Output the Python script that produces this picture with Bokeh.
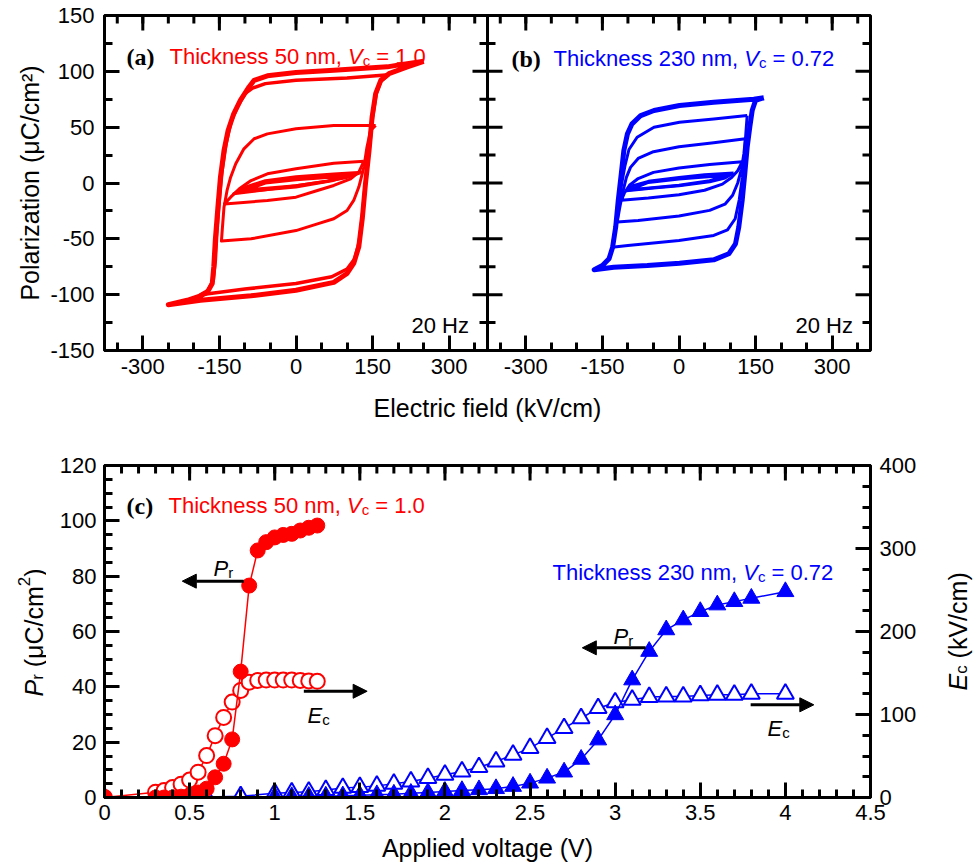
import math
from bokeh.plotting import figure
from bokeh.models import (Range1d, LinearAxis, FixedTicker, Label, Arrow, NormalHead, Span)
from bokeh.layouts import column, row
from bokeh.embed import file_html
from bokeh.resources import INLINE

RED = "#ff0000"
BLUE = "#0000ff"
FONT = "Liberation Sans"
SERIF = "Liberation Serif"

# ------------------------------------------------------------------ data
# (a) 50 nm hysteresis loops : electric field (kV/cm), polarization (uC/cm2)
A_OUT_E = [250, 205, 179, 74, 0, -56, -82, -92, -109, -122, -133, -141, -148, -153, -158, -161, -164, -174, -187, -213, -250,
           -187, -88, 0, 74, 100, 113, 123, 130, 136, 143, 149, 156, 166, 182, 218, 250]
A_OUT_P = [109, 106, 104, 101, 99, 96, 92, 86, 74, 62, 47, 29, 5, -22, -51, -75, -90, -98, -101, -105, -109,
           -105, -101, -96, -89, -81, -72, -57, -31, -1, 29, 59, 80, 92, 98, 104, 109]
A_B_E = [182, 100, 0, -60, -85, -100, -115, -127, -137, -145, -150, -155, -158, -162, -172, -187,
         -100, 0, 70, 100, 115, 124, 130, 136, 143, 150, 157, 166, 182]
A_B_P = [97, 94, 92, 89, 85, 80, 68, 55, 35, 10, -15, -45, -70, -87, -96, -100,
         -95, -90, -84, -77, -68, -52, -30, 0, 29, 59, 80, 91, 97]
A_C_E = [156, 74, 0, -56, -82, -102, -118, -128, -135, -141, -144, -146,
         -88, 0, 42, 74, 100, 113, 123, 133, 139, 146, 156]
A_C_P = [51.5, 51.5, 48.5, 44, 39.6, 30.6, 17.2, 5.2, -6.7, -21.7, -39.6, -52,
         -50, -42.6, -36.6, -32, -24.6, -15.6, -3.6, 14.3, 32.2, 47, 51.5]
A_D_E = [133, 74, 0, -56, -88, -111, -128, -140, -56, 0, 42, 74, 107, 123, 133]
A_D_P = [19.5, 17.7, 12.7, 8.2, 2.2, -5.2, -12.7, -18.7, -15.7, -12.7, -6.7, -2.2, 3.7, 9.7, 19.5]
A_E1_E = [130, 74, 0, -60, -95, -122, -60, 0, 60, 100, 130]
A_E1_P = [9.7, 8, 5.5, 2, -3, -9.7, -6, -2.5, 1.5, 5, 9.7]
A_E2_E = [115, 0, -70, -110, 0, 70, 115]
A_E2_P = [8, 4, 0, -8, -3.5, 2, 8]
A_E3_E = [95, 0, -60, -95, 0, 60, 95]
A_E3_P = [6, 3, 0, -6, -2.5, 1.5, 6]

# (b) 230 nm hysteresis loops
B_OUT_E = [166, 146.5, 68, 1, -49, -75, -92, -101, -108, -113, -119, -124, -130, -137, -150, -166,
           -128, -62, 1, 68, 97.5, 110.6, 117, 123.7, 128.8, 133.5, 138.6, 143.3, 149.8, 166]
B_OUT_P = [76.3, 75, 72.4, 69.4, 64.9, 60.4, 53, 44, 29.1, 8.2, -15.7, -39.6, -57.5, -67.9, -73.9, -77.7,
           -75.4, -73.9, -71.8, -68.8, -63.4, -54.5, -39.6, -15.7, 8.2, 32, 50, 64.9, 73.9, 76.3]
B_1_E = [133.5, 68, 1, -49, -82, -98, -106, -112, -118, -124, -131,
         -100, 0, 68, 95, 110, 118, 124, 128, 131, 133.5]
B_1_P = [60.4, 57.4, 54.4, 49.9, 41, 30, 15, 0, -18, -38, -57.5,
         -56, -51.5, -47, -42, -32, -15, 5, 25, 45, 60.4]
B_2_E = [130, 68, 0, -50, -80, -95, -103, -110, -116, -121, -80, 0, 60, 90, 105, 115, 122, 127, 130]
B_2_P = [39.6, 36, 32.5, 28, 22, 14, 5, -8, -22, -35, -33.5, -29.5, -24.5, -19, -11, 0, 12, 26, 39.6]
B_3_E = [124, 60, 0, -50, -80, -97, -107, -113, -60, 0, 50, 85, 103, 115, 124]
B_3_P = [19, 16.5, 13.5, 9.5, 4, -2, -9, -15.5, -13.5, -10.5, -6.5, -1, 5, 11, 19]
B_4_E = [107, 50, 0, -60, -90, -103, -50, 0, 60, 90, 107]
B_4_P = [9, 7.5, 5, 1.5, -2.5, -7, -4.5, -2.5, 1, 4.5, 9]
B_5_E = [95, 0, -60, -95, 0, 60, 95]
B_5_P = [7, 3.5, 0.5, -6, -2, 2, 7]

E_TICKS = [-300, -150, 0, 150, 300]
E_MINOR = [-350, -300, -250, -200, -150, -100, -50, 0, 50, 100, 150, 200, 250, 300, 350]
P_TICKS = [-150, -100, -50, 0, 50, 100, 150]
P_MINOR = [-125, -75, -25, 25, 75, 125]
B_SHIFT = 750          # panel (b) drawn on the same field axis, shifted right

# (c) remanent polarization / coercive field vs applied voltage
V_50 = [0, 0.3, 0.35, 0.4, 0.45, 0.5, 0.55, 0.6, 0.65, 0.7, 0.75, 0.8, 0.85, 0.9, 0.95,
        1.0, 1.05, 1.1, 1.15, 1.2, 1.25]
PR_50 = [0, 0, 0, 0, 0.3, 0.8, 1.8, 3.2, 7.3, 12.2, 21.0, 45.5, 76.6, 89.3, 92.3,
         94.0, 94.9, 95.3, 96.5, 97.5, 98.3]
EC_50 = [0, 6.4, 8.4, 12, 16, 21, 30.5, 50.5, 74.5, 96.5, 115, 129, 139, 141, 141.5,
         141.5, 141.5, 141.5, 141, 140.5, 140]

V_230_EC = [0, 0.6, 0.8, 1.0, 1.1, 1.2, 1.3, 1.4, 1.5, 1.6, 1.7, 1.8, 1.9, 2.0, 2.1, 2.2, 2.3, 2.4,
            2.5, 2.6, 2.7, 2.8, 2.9, 3.0, 3.1, 3.2, 3.3, 3.4, 3.5, 3.6, 3.7, 3.8, 4.0]
EC_230 = [0, 0.5, 1.5, 5, 6, 7, 9, 11.5, 12.5, 14, 16.5, 19.3, 23.3, 27.3, 31.3, 36.5, 43.4, 51.4,
          59.5, 71.5, 83.5, 95.5, 107.6, 114.5, 117.7, 121, 121.7, 121.7, 123, 123.7, 123.7, 124.9, 124.9]
V_230_PR = [1.0, 1.1, 1.2, 1.3, 1.4, 1.5, 1.6, 1.7, 1.8, 1.9, 2.0, 2.1, 2.2, 2.3, 2.4,
            2.5, 2.6, 2.7, 2.8, 2.9, 3.0, 3.1, 3.2, 3.3, 3.4, 3.5, 3.6, 3.7, 3.8, 4.0]
PR_230 = [0.3, 0.3, 0.4, 0.5, 0.6, 0.8, 1.0, 1.2, 1.5, 1.8, 2.2, 2.5, 2.8, 3.2, 4.0,
          5.2, 7.0, 9.2, 13.8, 20.8, 29.9, 42.5, 52.8, 60.6, 64.2, 67.2, 69.6, 70.8, 72.0, 74.4]

V_TICKS = [0, 0.5, 1, 1.5, 2, 2.5, 3, 3.5, 4, 4.5]
V_LABELS = ["0", "0.5", "1", "1.5", "2", "2.5", "3", "3.5", "4", "4.5"]
V_MINOR = [round(0.1 * i, 1) for i in range(46)]
PR_TICKS = [0, 20, 40, 60, 80, 100, 120]
PR_MINOR = [5 * i for i in range(25)]
EC_TICKS = [0, 100, 200, 300, 400]
EC_MINOR = [25 * i for i in range(17)]

# ------------------------------------------------------------------ layout (page pixels)
W = 976
FL, FR = 104, 870
T_TOP, T_BOT = 15, 350
TOP_H = 430
B_TOP, B_BOT = 465, 797
BOT_H = 434
LW_L = 46                 # left strip holding the rotated P_r title
LW_R = 44                 # right strip holding the rotated E_c title

AW = {'T': 611, 'h': 556, 'i': 222, 'c': 500, 'k': 500, 'n': 556, 'e': 556, 's': 500, ' ': 278,
      'm': 833, ',': 278, 'V': 667, '=': 584, '.': 278, 'E': 667, 'P': 667, 'r': 333, '(': 333,
      ')': 333, 'μ': 577, 'C': 722, '/': 278, '²': 333, 'o': 556, 'l': 222, 'a': 556, 'z': 500,
      't': 278}


def tw(s, size):
    return sum(AW.get(ch, 556) for ch in s) * size / 1000.0


def style_axis(ax, size="22px", standoff=8):
    ax.axis_line_width = 3
    ax.axis_line_color = "black"
    ax.major_tick_in = 15
    ax.major_tick_out = 0
    ax.minor_tick_in = 8
    ax.minor_tick_out = 0
    ax.major_tick_line_width = 3
    ax.minor_tick_line_width = 3
    ax.major_tick_line_color = "black"
    ax.minor_tick_line_color = "black"
    ax.major_label_text_font = FONT
    ax.major_label_text_font_size = size
    ax.major_label_text_color = "black"
    ax.major_label_standoff = standoff
    ax.axis_label_text_font = FONT
    ax.axis_label_text_font_size = "25px"
    ax.axis_label_text_font_style = "normal"
    ax.axis_label_text_color = "black"


def label(p, ox, fb, X, Y, text, size, color="black", style="normal", font=FONT, angle=0.0):
    # X, Y are page pixels; (ox, fb) = page position of the frame's left and bottom edges
    p.add_layout(Label(x=X - ox, y=fb - Y, x_units="screen", y_units="screen", text=text,
                       text_font=font, text_font_size=f"{size}px", text_color=color,
                       text_font_style=style, text_align="left", text_baseline="alphabetic",
                       angle=angle))


def flow(p, ox, fb, X, Y, pieces, color):
    for text, size, style, dy in pieces:
        body = text.lstrip(" ")
        X += tw(text[:len(text) - len(body)], size)
        label(p, ox, fb, X, Y + dy, body, size, color, style)
        X += tw(body, size)


def rflow(p, ox, fb, X, Y, pieces):
    for text, size, style, dx in pieces:
        body = text.lstrip(" ")
        Y -= tw(text[:len(text) - len(body)], size)
        label(p, ox, fb, X + dx, Y, body, size, "black", style, angle=math.pi / 2)
        Y -= tw(body, size)


def title_pieces(thick, vc):
    return [(f"Thickness {thick} nm, ", 22, "normal", 0), ("V", 22, "italic", 0),
            ("c", 15, "normal", 4), (f" = {vc}", 22, "normal", 0)]


def ticks_h(p, xs, y, size, **kw):
    # tick marks on a horizontal frame edge (the outer half is clipped by the frame)
    p.scatter(x=xs, y=[y] * len(xs), marker="dash", angle=math.pi / 2, size=size,
              line_color="black", line_width=3, **kw)


def ticks_v(p, x, ys, size, **kw):
    p.scatter(x=[x] * len(ys), y=ys, marker="dash", size=size, line_color="black", line_width=3, **kw)


def strip(width, height):
    s = figure(width=width, height=height, x_range=Range1d(0, 1), y_range=Range1d(0, 1),
               x_axis_location=None, y_axis_location=None, output_backend="svg",
               toolbar_location=None, min_border=0, min_border_left=0, min_border_right=0,
               min_border_top=0, min_border_bottom=0)
    s.grid.visible = False
    s.outline_line_color = None
    return s


# ------------------------------------------------------------------ top (a)+(b)
top = figure(width=W, height=TOP_H, x_range=Range1d(-375, 375 + B_SHIFT), y_range=Range1d(-150, 150),
             output_backend="svg", toolbar_location=None,
             min_border_left=FL, min_border_right=W - FR, min_border_top=T_TOP,
             min_border_bottom=TOP_H - T_BOT)
top.grid.visible = False
top.outline_line_color = "black"
top.outline_line_width = 3

xt_major = E_TICKS + [t + B_SHIFT for t in E_TICKS]
xt_minor = E_MINOR + [t + B_SHIFT for t in E_MINOR]
top.xaxis.ticker = FixedTicker(ticks=xt_major, minor_ticks=xt_minor)
overrides = {}
for t in E_TICKS:
    overrides[t] = str(t)
    overrides[t + B_SHIFT] = str(t)
top.xaxis.major_label_overrides = overrides
style_axis(top.xaxis[0], standoff=8)
top.xaxis.axis_label = "Electric field (kV/cm)"
top.xaxis.axis_label_standoff = 17
top.yaxis.ticker = FixedTicker(ticks=P_TICKS, minor_ticks=P_MINOR)
top.yaxis.major_label_overrides = {t: str(t) for t in P_TICKS}
style_axis(top.yaxis[0], standoff=10)
top.yaxis.axis_label = "Polarization (μC/cm²)"
top.yaxis.axis_label_standoff = 3

# mirror ticks (top, right) and the divider between the panels
ticks_h(top, xt_major, 150, 30)
ticks_h(top, xt_minor, 150, 16)
ticks_v(top, 375 + B_SHIFT, P_TICKS, 30)
ticks_v(top, 375 + B_SHIFT, P_MINOR, 16)
top.add_layout(Span(location=375, dimension="height", line_color="black", line_width=3))
ticks_v(top, 375, P_TICKS, 30)
ticks_v(top, 375, P_MINOR, 16)

for E, P, lw in [(A_OUT_E, A_OUT_P, 5), (A_B_E, A_B_P, 3.5), (A_C_E, A_C_P, 3), (A_D_E, A_D_P, 3),
                 (A_E1_E, A_E1_P, 3), (A_E2_E, A_E2_P, 3), (A_E3_E, A_E3_P, 3)]:
    top.line(E, P, line_color=RED, line_width=lw, line_join="round")
for E, P, lw in [(B_OUT_E, B_OUT_P, 5), (B_1_E, B_1_P, 3), (B_2_E, B_2_P, 3), (B_3_E, B_3_P, 3),
                 (B_4_E, B_4_P, 3), (B_5_E, B_5_P, 3)]:
    top.line([e + B_SHIFT for e in E], P, line_color=BLUE, line_width=lw, line_join="round")

label(top, FL, T_BOT, 126, 56, "(a)", 24, "black", "bold", SERIF)
flow(top, FL, T_BOT, 169, 56, title_pieces(50, "1.0"), RED)
label(top, FL, T_BOT, 511, 58, "(b)", 24, "black", "bold", SERIF)
flow(top, FL, T_BOT, 553, 58, title_pieces(230, "0.72"), BLUE)
label(top, FL, T_BOT, 411, 325, "20 Hz", 22)
label(top, FL, T_BOT, 795, 325, "20 Hz", 22)

# ------------------------------------------------------------------ bottom (c)
bot = figure(width=W - LW_L - LW_R, height=BOT_H, x_range=Range1d(0, 4.5), y_range=Range1d(0, 120),
             output_backend="svg", toolbar_location=None,
             min_border_left=FL - LW_L, min_border_right=(W - LW_R) - FR, min_border_top=B_TOP - TOP_H,
             min_border_bottom=BOT_H - (B_BOT - TOP_H))
bot.grid.visible = False
bot.outline_line_color = "black"
bot.outline_line_width = 3
bot.extra_y_ranges = {"ec": Range1d(0, 400)}

bot.xaxis.ticker = FixedTicker(ticks=V_TICKS, minor_ticks=V_MINOR)
bot.xaxis.major_label_overrides = dict(zip(V_TICKS, V_LABELS))
style_axis(bot.xaxis[0], standoff=7)
bot.xaxis.axis_label = "Applied voltage (V)"
bot.xaxis.axis_label_standoff = 11
bot.yaxis.ticker = FixedTicker(ticks=PR_TICKS, minor_ticks=PR_MINOR)
style_axis(bot.yaxis[0], standoff=8)

ax = LinearAxis(y_range_name="ec", ticker=FixedTicker(ticks=EC_TICKS, minor_ticks=EC_MINOR))
style_axis(ax, standoff=9)
bot.add_layout(ax, "right")
ticks_h(bot, V_TICKS, 120, 30)
ticks_h(bot, V_MINOR, 120, 16)

# coercive field (open) first, remanent polarization (filled) on top
bot.line(V_230_EC, EC_230, y_range_name="ec", line_color=BLUE, line_width=1.5)
bot.scatter(V_230_EC, EC_230, y_range_name="ec", marker="triangle", size=17,
            fill_color="white", line_color=BLUE, line_width=2)
bot.line(V_230_PR, PR_230, line_color=BLUE, line_width=1.5)
bot.scatter(V_230_PR, PR_230, marker="triangle", size=17, fill_color=BLUE, line_color=BLUE)

bot.line(V_50, EC_50, y_range_name="ec", line_color=RED, line_width=1.5)
bot.scatter(V_50, EC_50, y_range_name="ec", marker="circle", size=15,
            fill_color="white", line_color=RED, line_width=2)
bot.line(V_50, PR_50, line_color=RED, line_width=1.5)
bot.scatter(V_50, PR_50, marker="circle", size=15, fill_color=RED, line_color=RED)

# arrows pointing to the axis each curve belongs to
head = dict(size=14, fill_color="black", line_color="black")
for xs, xe, y in [(0.818, 0.457, 78.2), (1.171, 1.543, 38.4), (3.179, 2.807, 54.1), (3.796, 4.167, 33.5)]:
    bot.add_layout(Arrow(x_start=xs, y_start=y, x_end=xe, y_end=y, line_width=3, line_color="black",
                         end=NormalHead(**head)))

sub_P = [("P", 22, "italic", 0), ("r", 15, "normal", 4)]
sub_E = [("E", 22, "italic", 0), ("c", 15, "normal", 4)]
flow(bot, FL, B_BOT, 213, 568, sub_P, "black")
flow(bot, FL, B_BOT, 307, 715, sub_E, "black")
flow(bot, FL, B_BOT, 613, 636, sub_P, "black")
flow(bot, FL, B_BOT, 767, 728, sub_E, "black")

label(bot, FL, B_BOT, 126, 505, "(c)", 24, "black", "bold", SERIF)
flow(bot, FL, B_BOT, 168, 505, title_pieces(50, "1.0"), RED)
flow(bot, FL, B_BOT, 552, 572, title_pieces(230, "0.72"), BLUE)

# the strips' frames are aligned with the (c) frame by the row layout
bot_left = strip(LW_L, BOT_H)
rflow(bot_left, 0, B_BOT, 33, 696, [("P", 25, "italic", 0), ("r", 17, "normal", 4),
                                    (" (μC/cm", 25, "normal", 0), ("2", 17, "normal", -10),
                                    (")", 25, "normal", 0)])
bot_right = strip(LW_R, BOT_H)
rflow(bot_right, W - LW_R, B_BOT, 957, 690, [("E", 25, "italic", 0), ("c", 17, "normal", 4),
                                             (" (kV/cm)", 25, "normal", 0)])

page = column(top, row(bot_left, bot, bot_right, spacing=0), spacing=0)
open("out.html", "w").write(file_html(page, INLINE))
